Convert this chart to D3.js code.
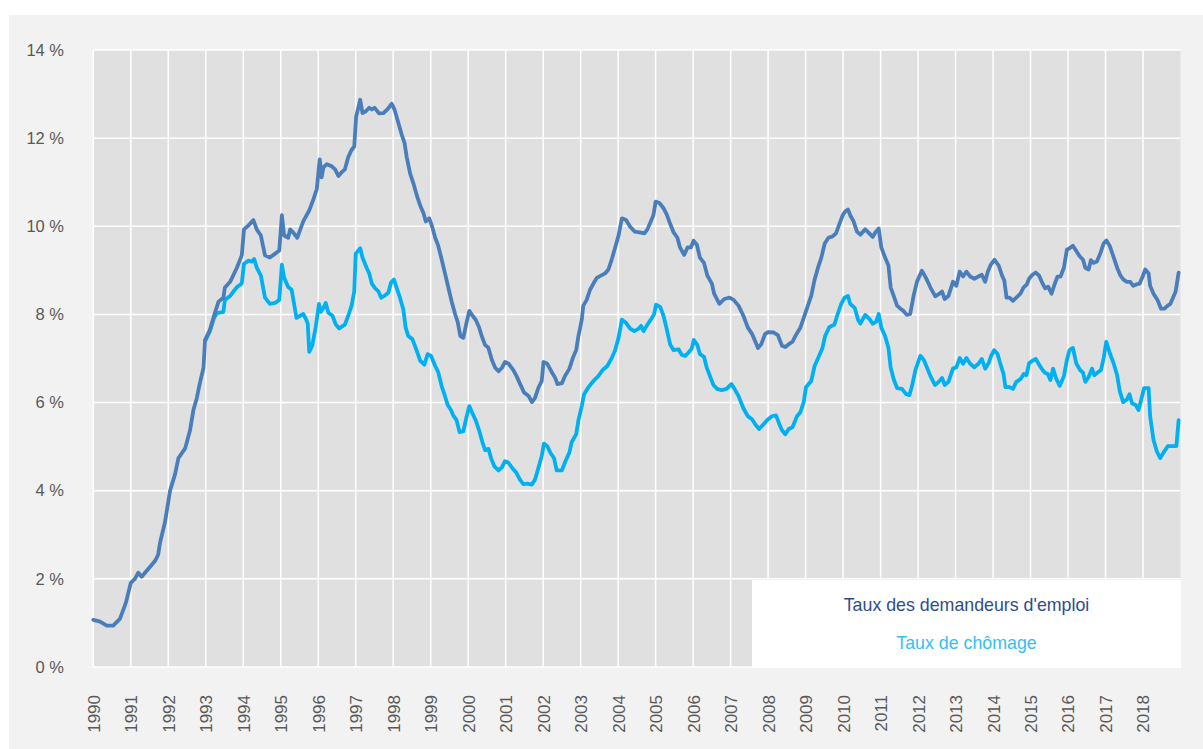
<!DOCTYPE html>
<html><head><meta charset="utf-8">
<script src="https://cdn.jsdelivr.net/npm/d3@7"></script>
<style>
html,body{margin:0;padding:0;background:#ffffff;}
svg{display:block;font-family:"Liberation Sans",Arial,sans-serif;}
</style></head>
<body><svg id="chart" width="1203" height="749"></svg>
<script>
// ---- Data (decimal years, percent) ----
const demYears = [1990.00,1990.18,1990.36,1990.53,1990.71,1990.87,1991.00,1991.11,1991.20,1991.29,1991.47,1991.65,1991.73,1991.78,1991.91,1992.05,1992.18,1992.27,1992.45,1992.58,1992.67,1992.76,1992.85,1992.94,1992.98,1993.11,1993.22,1993.34,1993.47,1993.51,1993.65,1993.83,1993.96,1994.02,1994.14,1994.27,1994.36,1994.47,1994.58,1994.71,1994.85,1994.96,1995.03,1995.09,1995.20,1995.25,1995.34,1995.44,1995.60,1995.76,1995.87,1995.96,1996.04,1996.09,1996.14,1996.23,1996.36,1996.45,1996.54,1996.63,1996.71,1996.80,1996.88,1996.96,1997.01,1997.12,1997.18,1997.27,1997.36,1997.43,1997.50,1997.56,1997.62,1997.74,1997.85,1997.96,1998.03,1998.14,1998.23,1998.30,1998.36,1998.45,1998.54,1998.63,1998.72,1998.81,1998.87,1998.96,1999.03,1999.12,1999.20,1999.28,1999.37,1999.47,1999.56,1999.65,1999.72,1999.79,1999.87,1999.96,2000.03,2000.10,2000.20,2000.29,2000.36,2000.45,2000.54,2000.63,2000.72,2000.81,2000.90,2000.98,2001.08,2001.20,2001.29,2001.38,2001.49,2001.61,2001.70,2001.78,2001.87,2001.96,2002.01,2002.11,2002.23,2002.32,2002.38,2002.50,2002.58,2002.70,2002.79,2002.88,2002.94,2003.03,2003.07,2003.16,2003.25,2003.34,2003.43,2003.54,2003.65,2003.74,2003.83,2003.92,2004.01,2004.10,2004.21,2004.32,2004.44,2004.57,2004.70,2004.78,2004.87,2004.94,2005.00,2005.10,2005.21,2005.30,2005.39,2005.48,2005.58,2005.65,2005.76,2005.85,2005.94,2006.01,2006.10,2006.18,2006.29,2006.38,2006.50,2006.56,2006.70,2006.83,2006.97,2007.08,2007.21,2007.34,2007.46,2007.57,2007.66,2007.73,2007.82,2007.92,2008.01,2008.15,2008.26,2008.37,2008.46,2008.56,2008.65,2008.74,2008.86,2008.95,2009.04,2009.15,2009.24,2009.33,2009.42,2009.51,2009.61,2009.72,2009.81,2009.90,2009.99,2010.06,2010.13,2010.19,2010.28,2010.37,2010.46,2010.59,2010.70,2010.79,2010.86,2010.95,2011.02,2011.12,2011.21,2011.27,2011.35,2011.44,2011.53,2011.61,2011.70,2011.79,2011.88,2011.97,2012.10,2012.21,2012.33,2012.46,2012.57,2012.64,2012.71,2012.81,2012.93,2013.02,2013.11,2013.20,2013.29,2013.39,2013.50,2013.61,2013.70,2013.79,2013.86,2013.94,2014.04,2014.15,2014.24,2014.30,2014.36,2014.44,2014.53,2014.62,2014.73,2014.81,2014.90,2014.96,2015.05,2015.14,2015.23,2015.30,2015.39,2015.47,2015.56,2015.64,2015.72,2015.80,2015.89,2015.97,2016.04,2016.13,2016.22,2016.31,2016.40,2016.46,2016.55,2016.61,2016.68,2016.77,2016.86,2016.95,2017.02,2017.11,2017.22,2017.31,2017.40,2017.48,2017.57,2017.66,2017.74,2017.82,2017.91,2018.00,2018.06,2018.15,2018.19,2018.28,2018.39,2018.48,2018.57,2018.66,2018.73,2018.80,2018.87,2018.95];
const demValues = [1.07,1.03,0.94,0.94,1.09,1.46,1.91,2.00,2.14,2.05,2.23,2.41,2.55,2.82,3.28,4.01,4.37,4.74,4.96,5.37,5.83,6.10,6.47,6.79,7.42,7.65,7.97,8.29,8.38,8.61,8.74,9.06,9.34,9.93,10.02,10.14,9.93,9.79,9.34,9.29,9.38,9.45,10.25,9.79,9.74,9.93,9.85,9.74,10.11,10.36,10.61,10.84,11.52,11.11,11.34,11.41,11.36,11.29,11.14,11.23,11.29,11.57,11.72,11.81,12.48,12.87,12.57,12.61,12.69,12.65,12.69,12.63,12.56,12.57,12.66,12.78,12.66,12.34,12.07,11.90,11.57,11.20,10.97,10.70,10.47,10.29,10.11,10.18,10.02,9.74,9.56,9.29,8.97,8.61,8.29,8.01,7.83,7.51,7.47,7.83,8.08,7.99,7.88,7.71,7.51,7.31,7.24,6.97,6.79,6.71,6.79,6.92,6.88,6.74,6.60,6.43,6.23,6.15,6.01,6.10,6.33,6.49,6.92,6.88,6.69,6.56,6.42,6.44,6.60,6.77,7.01,7.19,7.51,7.88,8.20,8.33,8.56,8.70,8.83,8.88,8.93,9.02,9.25,9.52,9.79,10.18,10.14,9.99,9.88,9.86,9.84,9.93,10.11,10.25,10.56,10.53,10.41,10.26,10.05,9.86,9.74,9.52,9.35,9.52,9.52,9.67,9.58,9.29,9.17,8.88,8.70,8.47,8.24,8.35,8.38,8.33,8.20,7.97,7.70,7.56,7.38,7.24,7.33,7.56,7.60,7.59,7.53,7.29,7.26,7.33,7.38,7.53,7.70,7.92,8.15,8.42,8.79,9.06,9.29,9.61,9.74,9.77,9.84,10.05,10.25,10.34,10.38,10.25,10.11,9.88,9.81,9.93,9.84,9.76,9.86,9.95,9.52,9.29,9.11,8.61,8.42,8.20,8.13,8.08,7.99,8.01,8.42,8.74,8.99,8.83,8.61,8.41,8.47,8.52,8.35,8.42,8.74,8.65,8.97,8.86,8.97,8.86,8.81,8.86,8.90,8.74,8.97,9.13,9.24,9.11,8.88,8.77,8.38,8.38,8.31,8.38,8.47,8.61,8.68,8.81,8.90,8.95,8.88,8.74,8.59,8.63,8.47,8.68,8.86,8.86,9.06,9.47,9.50,9.56,9.44,9.32,9.24,9.06,9.02,9.23,9.17,9.20,9.38,9.61,9.68,9.56,9.29,9.06,8.88,8.79,8.74,8.74,8.65,8.68,8.70,8.88,9.02,8.93,8.65,8.47,8.32,8.13,8.13,8.20,8.24,8.38,8.52,8.95];

const chomYears = [1993.00,1993.11,1993.22,1993.30,1993.47,1993.51,1993.65,1993.74,1993.83,1993.96,1994.02,1994.14,1994.23,1994.29,1994.36,1994.47,1994.58,1994.71,1994.85,1994.96,1995.03,1995.09,1995.20,1995.29,1995.42,1995.60,1995.67,1995.72,1995.76,1995.84,1995.93,1996.02,1996.07,1996.14,1996.20,1996.27,1996.38,1996.47,1996.56,1996.64,1996.71,1996.80,1996.89,1996.96,1997.00,1997.12,1997.18,1997.29,1997.36,1997.43,1997.52,1997.60,1997.68,1997.76,1997.87,1997.94,1998.02,1998.09,1998.18,1998.27,1998.33,1998.40,1998.51,1998.60,1998.72,1998.83,1998.92,1999.01,1999.12,1999.20,1999.29,1999.38,1999.45,1999.54,1999.60,1999.69,1999.77,1999.87,1999.96,2000.03,2000.10,2000.20,2000.29,2000.38,2000.45,2000.54,2000.61,2000.70,2000.81,2000.90,2000.98,2001.07,2001.18,2001.29,2001.38,2001.47,2001.58,2001.70,2001.78,2001.87,2001.96,2002.02,2002.11,2002.20,2002.29,2002.36,2002.50,2002.58,2002.70,2002.76,2002.88,2002.94,2003.03,2003.09,2003.21,2003.34,2003.47,2003.59,2003.71,2003.83,2003.92,2004.01,2004.10,2004.21,2004.32,2004.43,2004.55,2004.61,2004.68,2004.78,2004.90,2004.96,2005.01,2005.12,2005.21,2005.30,2005.39,2005.48,2005.61,2005.70,2005.79,2005.87,2005.96,2006.02,2006.11,2006.18,2006.29,2006.36,2006.45,2006.54,2006.64,2006.76,2006.89,2007.02,2007.11,2007.21,2007.34,2007.46,2007.57,2007.67,2007.76,2007.88,2007.97,2008.10,2008.21,2008.30,2008.37,2008.46,2008.55,2008.65,2008.77,2008.86,2008.95,2009.01,2009.15,2009.24,2009.35,2009.45,2009.52,2009.63,2009.77,2009.84,2009.95,2010.04,2010.13,2010.19,2010.31,2010.40,2010.46,2010.59,2010.70,2010.79,2010.88,2010.95,2011.02,2011.12,2011.21,2011.27,2011.35,2011.44,2011.57,2011.68,2011.77,2011.84,2011.93,2012.06,2012.15,2012.24,2012.33,2012.45,2012.55,2012.64,2012.71,2012.81,2012.93,2013.02,2013.11,2013.20,2013.29,2013.39,2013.50,2013.61,2013.70,2013.79,2013.88,2013.94,2014.03,2014.12,2014.19,2014.28,2014.33,2014.44,2014.53,2014.62,2014.73,2014.82,2014.89,2014.96,2015.05,2015.14,2015.23,2015.32,2015.39,2015.46,2015.53,2015.60,2015.69,2015.78,2015.89,2015.97,2016.04,2016.13,2016.22,2016.32,2016.40,2016.46,2016.55,2016.64,2016.70,2016.79,2016.88,2016.95,2017.02,2017.11,2017.22,2017.31,2017.38,2017.47,2017.57,2017.64,2017.71,2017.80,2017.88,2017.95,2018.03,2018.15,2018.19,2018.28,2018.37,2018.46,2018.55,2018.66,2018.77,2018.89,2018.95];
const chomValues = [7.42,7.62,7.92,8.03,8.06,8.33,8.42,8.52,8.62,8.70,9.15,9.22,9.20,9.26,9.06,8.88,8.38,8.24,8.26,8.33,9.13,8.83,8.62,8.56,7.92,8.01,7.90,7.79,7.15,7.29,7.70,8.24,8.06,8.15,8.26,8.04,7.97,7.77,7.68,7.73,7.77,7.97,8.20,8.52,9.38,9.50,9.29,9.06,8.93,8.70,8.59,8.53,8.38,8.42,8.49,8.72,8.79,8.61,8.38,8.11,7.71,7.51,7.44,7.24,6.95,6.86,7.10,7.06,6.83,6.69,6.38,6.15,5.95,5.83,5.71,5.60,5.33,5.35,5.69,5.92,5.78,5.60,5.37,5.10,4.92,4.95,4.74,4.55,4.46,4.53,4.67,4.64,4.51,4.40,4.25,4.15,4.16,4.14,4.25,4.51,4.78,5.07,5.01,4.85,4.74,4.46,4.46,4.64,4.87,5.10,5.28,5.60,5.92,6.19,6.35,6.49,6.60,6.74,6.83,7.01,7.19,7.47,7.88,7.81,7.68,7.62,7.68,7.74,7.62,7.77,7.92,8.01,8.22,8.17,7.97,7.65,7.31,7.19,7.21,7.08,7.06,7.13,7.22,7.42,7.31,7.10,7.04,6.80,6.60,6.40,6.31,6.28,6.31,6.42,6.30,6.15,5.87,5.69,5.62,5.49,5.40,5.51,5.60,5.69,5.71,5.51,5.37,5.28,5.40,5.44,5.69,5.78,6.01,6.35,6.49,6.83,7.04,7.24,7.51,7.71,7.77,7.97,8.24,8.38,8.42,8.24,8.15,7.88,7.79,7.99,7.90,7.79,7.83,8.01,7.70,7.51,7.24,6.79,6.53,6.33,6.31,6.19,6.17,6.38,6.74,7.06,6.97,6.79,6.60,6.40,6.47,6.56,6.40,6.47,6.77,6.80,7.01,6.88,7.01,6.88,6.80,6.88,6.99,6.77,6.89,7.04,7.19,7.10,6.89,6.65,6.35,6.35,6.31,6.47,6.53,6.65,6.62,6.89,6.95,6.99,6.86,6.74,6.67,6.65,6.51,6.77,6.53,6.38,6.60,6.97,7.19,7.24,6.89,6.74,6.68,6.47,6.58,6.77,6.62,6.68,6.74,7.01,7.38,7.13,6.88,6.62,6.26,6.01,6.07,6.19,5.98,5.95,5.83,6.06,6.33,6.33,5.69,5.15,4.89,4.74,4.87,5.01,5.01,5.01,5.60];

const yTicks = [0, 2, 4, 6, 8, 10, 12, 14];
const yTickLabels = ["0 %", "2 %", "4 %", "6 %", "8 %", "10 %", "12 %", "14 %"];
const xTickYears = d3.range(1990, 2019);
const seriesNames = ["Taux des demandeurs d'emploi", "Taux de chômage"];

// ---- Layout ----
const svg = d3.select("#chart");
const W = 1203, H = 749;
const plot = {left: 93.3, right: 1180.5, top: 50, bottom: 667};

svg.append("rect").attr("x", 9).attr("y", 15).attr("width", W - 9).attr("height", H - 15).attr("fill", "#f2f2f2");

const x = d3.scaleLinear().domain([1990, 2019]).range([plot.left, plot.right]);
const y = d3.scaleLinear().domain([0, 14]).range([plot.bottom, plot.top]);

svg.append("rect").attr("x", plot.left).attr("y", plot.top)
  .attr("width", plot.right - plot.left).attr("height", plot.bottom - plot.top).attr("fill", "#e0e0e0");

// gridlines
const grid = svg.append("g");
grid.selectAll("line.h").data(yTicks).join("line")
  .attr("x1", plot.left).attr("x2", plot.right)
  .attr("y1", d => y(d)).attr("y2", d => y(d))
  .attr("stroke", "#ffffff").attr("stroke-width", 1.5);
grid.selectAll("line.v").data(xTickYears).join("line")
  .attr("x1", d => x(d)).attr("x2", d => x(d))
  .attr("y1", plot.top).attr("y2", plot.bottom)
  .attr("stroke", "#ffffff").attr("stroke-width", 1.5);

// y axis labels
const yAxis = d3.axisLeft(y).tickValues(yTicks).tickSize(0).tickPadding(0)
  .tickFormat((d, i) => yTickLabels[i]);
const gy = svg.append("g").attr("transform", "translate(64,0)").call(yAxis);
gy.select(".domain").remove();
gy.selectAll("text").attr("font-size", 16.5).attr("fill", "#595959")
  .attr("font-family", "Liberation Sans, Arial, sans-serif");

// x axis labels
const xAxis = d3.axisBottom(x).tickValues(xTickYears).tickSize(0).tickFormat(d3.format("d"));
const gx = svg.append("g").attr("transform", `translate(0,${plot.bottom})`).call(xAxis);
gx.select(".domain").remove();
gx.selectAll("text")
  .attr("font-size", 17).attr("fill", "#595959")
  .attr("font-family", "Liberation Sans, Arial, sans-serif")
  .attr("text-anchor", "end")
  .attr("transform", "translate(0,28) rotate(-90)")
  .attr("x", 0).attr("y", 0).attr("dy", "0.35em");

// lines
const lineGen = d3.line().x(d => x(d[0])).y(d => y(d[1])).curve(d3.curveLinear);
const chomData = chomYears.map((t, i) => [t, chomValues[i]]);
const demData = demYears.map((t, i) => [t, demValues[i]]);
svg.append("path").datum(chomData).attr("d", lineGen)
  .attr("fill", "none").attr("stroke", "#00b0f0").attr("stroke-width", 3.8)
  .attr("stroke-linejoin", "round").attr("stroke-linecap", "round");
svg.append("path").datum(demData).attr("d", lineGen)
  .attr("fill", "none").attr("stroke", "#4a7ebb").attr("stroke-width", 3.8)
  .attr("stroke-linejoin", "round").attr("stroke-linecap", "round");

// legend
const lg = svg.append("g");
lg.append("rect").attr("x", 752).attr("y", 580).attr("width", 429).attr("height", 88).attr("fill", "#ffffff");
lg.selectAll("text").data(seriesNames).join("text")
  .attr("x", 966.5).attr("y", (d, i) => 605 + i * 38).attr("dy", "0.35em")
  .attr("text-anchor", "middle").attr("font-size", 17.8)
  .attr("font-family", "Liberation Sans, Arial, sans-serif")
  .attr("fill", (d, i) => i === 0 ? "#2e4d8b" : "#38bef0")
  .text(d => d);
</script></body></html>
